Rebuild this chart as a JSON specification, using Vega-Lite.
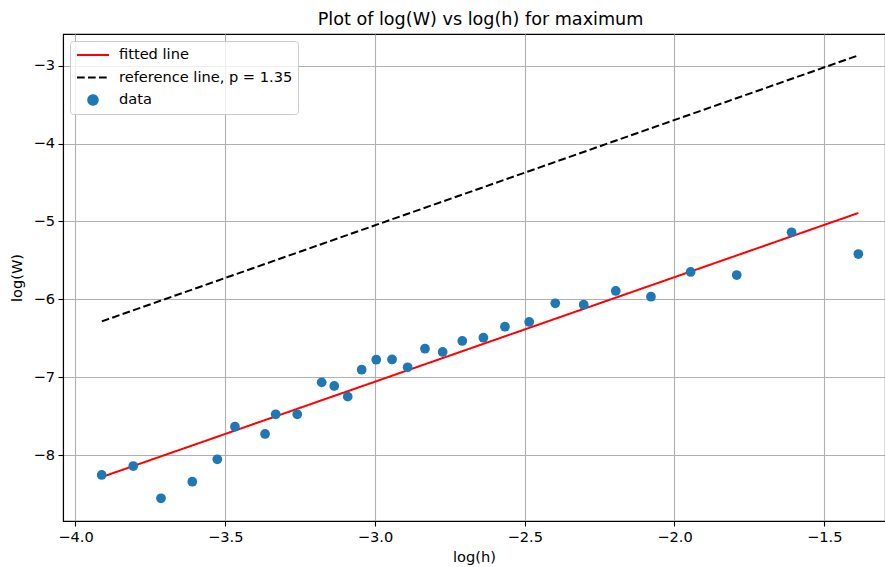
{
  "$schema": "https://vega.github.io/schema/vega-lite/v6.json",
  "width": 822,
  "height": 487,
  "autosize": {"type": "none"},
  "padding": {"left": 63, "top": 34, "right": 0, "bottom": 46},
  "background": "white",
  "title": {
    "text": "Plot of log(W) vs log(h) for maximum",
    "font": "DejaVu Sans",
    "fontSize": 17.6,
    "fontWeight": "normal",
    "color": "black",
    "anchor": "middle",
    "dx": 6.5,
    "offset": 5
  },
  "config": {
    "view": {"stroke": "black", "strokeWidth": 1.1},
    "axis": {
      "labelFont": "DejaVu Sans",
      "labelFontSize": 14.6,
      "labelColor": "black",
      "titleFont": "DejaVu Sans",
      "titleFontSize": 14.6,
      "titleFontWeight": "normal",
      "titleColor": "black",
      "tickColor": "black",
      "tickSize": 5,
      "tickWidth": 1.1,
      "domainColor": "black",
      "domainWidth": 1.1,
      "gridColor": "#b0b0b0",
      "gridWidth": 1.1,
      "labelPadding": 3.5,
      "labelFlush": false,
      "labelOverlap": false
    }
  },
  "layer": [
    {
      "data": {
        "values": [
          {"x": -3.912, "y": -8.276, "series": "fitted line"},
          {"x": -1.386, "y": -4.891, "series": "fitted line"},
          {"x": -3.912, "y": -6.28, "series": "reference line, p = 1.35"},
          {"x": -1.386, "y": -2.87, "series": "reference line, p = 1.35"}
        ]
      },
      "mark": {"type": "line", "strokeWidth": 2},
      "encoding": {
        "x": {
          "field": "x", "type": "quantitative",
          "scale": {"domain": [-4.0417, -1.297], "nice": false, "zero": false},
          "axis": {"title": "log(h)", "values": [-4, -3.5, -3, -2.5, -2, -1.5], "format": ".1f", "titlePadding": 5}
        },
        "y": {
          "field": "y", "type": "quantitative",
          "scale": {"domain": [-8.84, -2.596], "nice": false, "zero": false},
          "axis": {"title": "log(W)", "values": [-8, -7, -6, -5, -4, -3], "format": "d", "titlePadding": 8}
        },
        "color": {
          "field": "series", "type": "nominal",
          "scale": {
            "domain": ["fitted line", "reference line, p = 1.35", "data"],
            "range": ["red", "black", "#1f77b4"]
          },
          "legend": {
            "title": null,
            "orient": "top-left",
            "offset": 7,
            "symbolSize": 256,
            "symbolOffset": 1,
            "labelFont": "DejaVu Sans",
            "labelFontSize": 14.6,
            "labelColor": "black",
            "labelOffset": 9,
            "labelLimit": 0,
            "fillColor": "rgba(255,255,255,0.8)",
            "strokeColor": "#cccccc",
            "cornerRadius": 3,
            "padding": 5,
            "rowPadding": 6.5,
            "encode": {
              "symbols": {
                "update": {
                  "y": {"value": 9},
                  "shape": {"signal": "datum.value === 'data' ? 'circle' : 'stroke'"},
                  "size": {"signal": "datum.value === 'data' ? 90 : 1024"},
                  "fill": {"signal": "datum.value === 'data' ? '#1f77b4' : 'transparent'"},
                  "stroke": {"signal": "datum.value === 'data' ? 'transparent' : (datum.value === 'fitted line' ? 'red' : 'black')"},
                  "strokeWidth": {"value": 2},
                  "strokeDash": {"signal": "datum.value === 'reference line, p = 1.35' ? [7.7, 3.3] : [1, 0]"},
                  "opacity": {"value": 1}
                }
              },
              "labels": {
                "update": {
                  "y": {"value": 9}
                }
              }
            }
          }
        },
        "strokeDash": {
          "field": "series", "type": "nominal",
          "scale": {"domain": ["fitted line", "reference line, p = 1.35"], "range": [[1, 0], [7.7, 3.3]]},
          "legend": null
        }
      }
    },
    {
      "data": {
        "values": [
          {"x": -3.9125, "y": -8.25, "series": "data"},
          {"x": -3.807, "y": -8.135, "series": "data"},
          {"x": -3.7145, "y": -8.549, "series": "data"},
          {"x": -3.61, "y": -8.336, "series": "data"},
          {"x": -3.5265, "y": -8.049, "series": "data"},
          {"x": -3.4675, "y": -7.631, "series": "data"},
          {"x": -3.367, "y": -7.724, "series": "data"},
          {"x": -3.3315, "y": -7.472, "series": "data"},
          {"x": -3.2595, "y": -7.472, "series": "data"},
          {"x": -3.178, "y": -7.062, "series": "data"},
          {"x": -3.136, "y": -7.109, "series": "data"},
          {"x": -3.091, "y": -7.246, "series": "data"},
          {"x": -3.0444, "y": -6.9, "series": "data"},
          {"x": -2.9957, "y": -6.772, "series": "data"},
          {"x": -2.943, "y": -6.769, "series": "data"},
          {"x": -2.891, "y": -6.869, "series": "data"},
          {"x": -2.833, "y": -6.631, "series": "data"},
          {"x": -2.774, "y": -6.673, "series": "data"},
          {"x": -2.7085, "y": -6.532, "series": "data"},
          {"x": -2.638, "y": -6.49, "series": "data"},
          {"x": -2.566, "y": -6.349, "series": "data"},
          {"x": -2.485, "y": -6.288, "series": "data"},
          {"x": -2.398, "y": -6.049, "series": "data"},
          {"x": -2.303, "y": -6.067, "series": "data"},
          {"x": -2.196, "y": -5.891, "series": "data"},
          {"x": -2.0785, "y": -5.964, "series": "data"},
          {"x": -1.946, "y": -5.647, "series": "data"},
          {"x": -1.792, "y": -5.686, "series": "data"},
          {"x": -1.609, "y": -5.138, "series": "data"},
          {"x": -1.386, "y": -5.417, "series": "data"}
        ]
      },
      "mark": {"type": "point", "shape": "circle", "filled": true, "size": 95, "opacity": 1},
      "encoding": {
        "x": {"field": "x", "type": "quantitative"},
        "y": {"field": "y", "type": "quantitative"},
        "color": {"field": "series", "type": "nominal"}
      }
    }
  ]
}
